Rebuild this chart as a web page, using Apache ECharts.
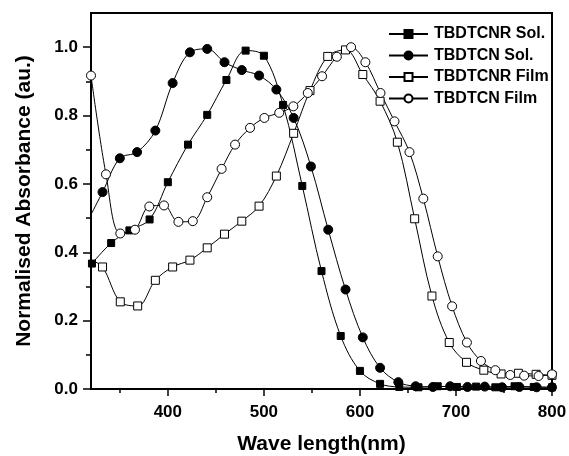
<!DOCTYPE html>
<html><head><meta charset="utf-8">
<script src="https://cdn.jsdelivr.net/npm/echarts@6/dist/echarts.min.js"></script>
<style>html,body{margin:0;padding:0;background:#fff}#c{width:569px;height:456px}</style>
</head><body><div id="c"></div>
<script>
// Tick values
const xTicks = [400, 500, 600, 700, 800];
const xMinorTicks = [350, 450, 550, 650, 750];
const yTicks = [0, 0.2, 0.4, 0.6, 0.8, 1.0];
const yMinorTicks = [0.1, 0.3, 0.5, 0.7, 0.9];

// Series names
const seriesNames = ['TBDTCNR Sol.', 'TBDTCN Sol.', 'TBDTCNR Film', 'TBDTCN Film'];

// TBDTCNR Sol. (filled squares)
const tbdtcnrSolX = [321, 341, 360, 381, 400, 421, 441, 461, 481, 500, 520, 540, 560, 580, 600, 621, 641, 661, 681, 701, 721, 741, 761, 781, 800];
const tbdtcnrSolY = [0.367, 0.427, 0.464, 0.496, 0.605, 0.715, 0.802, 0.904, 0.990, 0.975, 0.831, 0.594, 0.345, 0.155, 0.053, 0.015, 0.006, 0.005, 0.008, 0.006, 0.007, 0.005, 0.008, 0.006, 0.005];

// TBDTCN Sol. (filled circles); first point is the line start without marker
const tbdtcnSolX = [320, 332, 350, 368, 387, 405, 423, 441, 459, 477, 495, 513, 531, 549, 567, 585, 603, 621, 640, 658, 676, 694, 712, 730, 748, 766, 784, 800];
const tbdtcnSolY = [0.51, 0.576, 0.675, 0.693, 0.756, 0.895, 0.985, 0.995, 0.956, 0.933, 0.917, 0.876, 0.793, 0.651, 0.466, 0.291, 0.151, 0.062, 0.020, 0.008, 0.006, 0.008, 0.006, 0.007, 0.005, 0.006, 0.005, 0.005];

// TBDTCNR Film (open squares); first point is the line start without marker
const tbdtcnrFilmX = [320, 332, 350.5, 368.6, 387, 405, 423, 441, 459, 477, 495, 513, 531, 548, 566.5, 585, 603, 621, 639, 657, 675, 693, 711, 729, 747, 765, 783.5, 800];
const tbdtcnrFilmY = [0.377, 0.357, 0.255, 0.243, 0.318, 0.357, 0.377, 0.413, 0.453, 0.491, 0.535, 0.623, 0.748, 0.873, 0.973, 0.992, 0.920, 0.842, 0.722, 0.498, 0.272, 0.136, 0.078, 0.055, 0.044, 0.046, 0.043, 0.040];

// TBDTCN Film (open circles)
const tbdtcnFilmX = [320, 335.6, 350.5, 365.8, 380.7, 396, 411, 426, 441, 456, 470, 485.6, 500.5, 516, 530.7, 545.7, 560.6, 576, 590.8, 605.7, 621.4, 636, 651.6, 666, 681, 696, 711.4, 726, 741, 756.5, 771, 786, 800];
const tbdtcnFilmY = [0.917, 0.628, 0.455, 0.466, 0.534, 0.537, 0.489, 0.491, 0.561, 0.644, 0.715, 0.764, 0.793, 0.808, 0.827, 0.866, 0.915, 0.972, 1.0, 0.956, 0.866, 0.783, 0.693, 0.557, 0.388, 0.242, 0.136, 0.082, 0.055, 0.041, 0.039, 0.038, 0.043];

const FONT = 'Liberation Sans, Arial, sans-serif';

function pts(xs, ys, hideFirst) {
  return xs.map((x, i) => {
    const item = { value: [x, ys[i]] };
    if (hideFirst && i === 0) item.symbol = 'none';
    return item;
  });
}

function mkSeries(name, xs, ys, symbol, size, filled, hideFirst) {
  return {
    name: name, type: 'line', xAxisIndex: 0, yAxisIndex: 0,
    data: pts(xs, ys, hideFirst),
    smooth: 0.35,
    symbol: symbol, symbolSize: size,
    showAllSymbol: true,
    lineStyle: { color: '#000', width: 1 },
    itemStyle: { color: filled ? '#000' : '#fff', borderColor: '#000', borderWidth: 1 },
    emphasis: { disabled: true },
    clip: true
  };
}

const chart = echarts.init(document.getElementById('c'), null, { renderer: 'canvas' });
const gridPos = { left: 91, right: 17, top: 13, bottom: 67, containLabel: false, outerBoundsMode: 'none' };
chart.setOption({
  animation: false,
  backgroundColor: '#fff',
  grid: [
    Object.assign({ show: true, borderColor: '#000', borderWidth: 2, backgroundColor: 'transparent' }, gridPos),
    Object.assign({ show: false }, gridPos)
  ],
  legend: {
    orient: 'vertical', left: 388, top: 26, padding: 0,
    itemWidth: 39, itemHeight: 10, itemGap: 5.5,
    textStyle: { fontFamily: FONT, fontWeight: 'bold', fontSize: 16, color: '#000', padding: [0, 0, 0, 1] },
    data: seriesNames
  },
  xAxis: [
    {
      type: 'value', gridIndex: 0, min: 320, max: 800,
      name: 'Wave length(nm)', nameLocation: 'middle', nameGap: 45,
      nameTextStyle: { fontFamily: FONT, fontWeight: 'bold', fontSize: 21, color: '#000' },
      axisLine: { show: true, lineStyle: { color: '#000', width: 2 } },
      axisTick: { show: true, length: 7, lineStyle: { color: '#000', width: 1.5 }, customValues: xTicks },
      axisLabel: { customValues: xTicks, margin: 15, fontFamily: FONT, fontWeight: 'bold', fontSize: 17, color: '#000' },
      splitLine: { show: false }
    },
    {
      type: 'value', gridIndex: 1, min: 320, max: 800,
      axisLine: { show: false },
      axisTick: { show: true, length: 4, lineStyle: { color: '#000', width: 1.5 }, customValues: xMinorTicks },
      axisLabel: { show: false, customValues: xMinorTicks },
      splitLine: { show: false }
    }
  ],
  yAxis: [
    {
      type: 'value', gridIndex: 0, min: 0, max: 1.1,
      name: 'Normalised Absorbance (au.)', nameLocation: 'middle', nameGap: 56,
      nameTextStyle: { fontFamily: FONT, fontWeight: 'bold', fontSize: 21, color: '#000' },
      axisLine: { show: true, lineStyle: { color: '#000', width: 2 } },
      axisTick: { show: true, length: 8, lineStyle: { color: '#000', width: 1.5 }, customValues: yTicks },
      axisLabel: { customValues: yTicks, margin: 13, fontFamily: FONT, fontWeight: 'bold', fontSize: 17, color: '#000',
        formatter: v => v.toFixed(1) },
      splitLine: { show: false }
    },
    {
      type: 'value', gridIndex: 1, min: 0, max: 1.1,
      axisLine: { show: false },
      axisTick: { show: true, length: 5, lineStyle: { color: '#000', width: 1.5 }, customValues: yMinorTicks },
      axisLabel: { show: false, customValues: yMinorTicks },
      splitLine: { show: false }
    }
  ],
  series: [
    mkSeries(seriesNames[0], tbdtcnrSolX, tbdtcnrSolY, 'rect', 7, true, false),
    mkSeries(seriesNames[1], tbdtcnSolX, tbdtcnSolY, 'circle', 9, true, true),
    mkSeries(seriesNames[2], tbdtcnrFilmX, tbdtcnrFilmY, 'rect', 8, false, true),
    mkSeries(seriesNames[3], tbdtcnFilmX, tbdtcnFilmY, 'circle', 9, false, false)
  ]
});
</script></body></html>
